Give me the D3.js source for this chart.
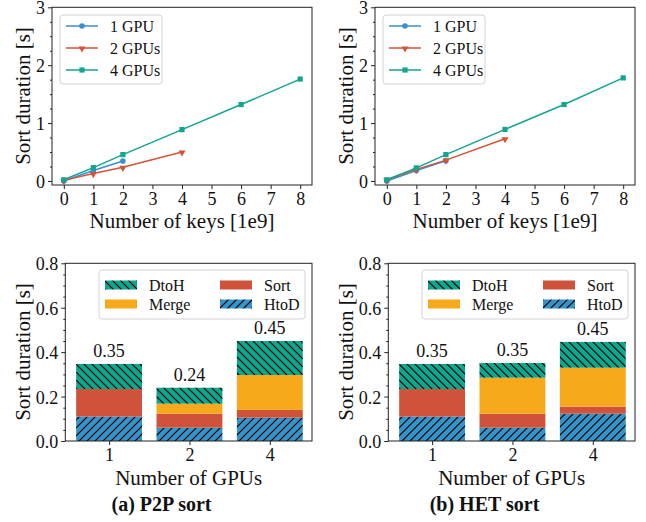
<!DOCTYPE html>
<html>
<head>
<meta charset="utf-8">
<script src="https://cdn.jsdelivr.net/npm/d3@7"></script>
<style>
  body { margin: 0; background: #fff; }
</style>
</head>
<body>
<div class="chart"></div>
<script>
// ---- data: line charts (sort duration vs number of keys, 1e9) ----
var keys1 = [0, 1, 2];
var keys2 = [0, 1, 2, 4];
var keys4 = [0, 1, 2, 4, 6, 8];

var p2pOne  = [0.00, 0.18, 0.345];
var p2pTwo  = [0.01, 0.127, 0.236, 0.50];
var p2pFour = [0.02, 0.23, 0.455, 0.887, 1.32, 1.76];

var hetOne  = [0.00, 0.18, 0.35];
var hetTwo  = [0.02, 0.20, 0.36, 0.73];
var hetFour = [0.02, 0.225, 0.455, 0.89, 1.32, 1.78];

var seriesNames = ["1 GPU", "2 GPUs", "4 GPUs"];
var lineTicksX = [0, 1, 2, 3, 4, 5, 6, 7, 8];
var lineTicksY = [0, 1, 2, 3];

// ---- data: stacked bars (breakdown at 2e9 keys) ----
var gpuCounts = ["1", "2", "4"];
var phases = ["HtoD", "Sort", "Merge", "DtoH"];
var legendOrder = ["DtoH", "Merge", "Sort", "HtoD"];

var p2pHtoD  = [0.110, 0.060, 0.105];
var p2pSort  = [0.124, 0.063, 0.035];
var p2pMerge = [0.000, 0.045, 0.157];
var p2pDtoH  = [0.113, 0.072, 0.153];
var p2pTotals = ["0.35", "0.24", "0.45"];

var hetHtoD  = [0.110, 0.060, 0.123];
var hetSort  = [0.124, 0.063, 0.032];
var hetMerge = [0.000, 0.162, 0.175];
var hetDtoH  = [0.113, 0.066, 0.116];
var hetTotals = ["0.35", "0.35", "0.45"];

var barTicksY = [0, 0.2, 0.4, 0.6, 0.8];
var captions = ["(a) P2P sort", "(b) HET sort"];

// colours
var lineColors = ["#3b8ed0", "#d6533a", "#12a58f"];
var phaseColors = { HtoD: "#3594c9", Sort: "#cf533b", Merge: "#f6a91b", DtoH: "#0fa68e" };
var phaseHatch = { HtoD: "fwd", Sort: null, Merge: null, DtoH: "back" };

var FONT = '"Liberation Serif", "DejaVu Serif", serif';

var svg = d3.select(".chart").append("svg")
  .attr("width", 646)
  .attr("height", 522);

// hatch patterns
var defs = svg.append("defs");
phases.forEach(function(p) {
  if (!phaseHatch[p]) return;
  var pat = defs.append("pattern")
    .attr("id", "hatch-" + p)
    .attr("patternUnits", "userSpaceOnUse")
    .attr("width", 8).attr("height", 8);
  pat.append("rect").attr("width", 8).attr("height", 8).attr("fill", phaseColors[p]);
  var d = phaseHatch[p] === "fwd"
    ? "M0,8 L8,0 M-2,2 L2,-2 M6,10 L10,6"
    : "M0,0 L8,8 M-2,6 L2,10 M6,-2 L10,2";
  pat.append("path").attr("d", d).attr("stroke", "#000").attr("stroke-width", 1.2);
});

function fillFor(p) {
  return phaseHatch[p] ? "url(#hatch-" + p + ")" : phaseColors[p];
}

function drawMarker(g, kind, cx, cy, color) {
  if (kind === 0) {
    g.append("circle").attr("cx", cx).attr("cy", cy).attr("r", 2.8).attr("fill", color);
  } else if (kind === 1) {
    g.append("path")
      .attr("d", d3.symbol().type(d3.symbolTriangle).size(22)())
      .attr("transform", "translate(" + cx + "," + (cy + 0.5) + ") rotate(180)")
      .attr("fill", color);
  } else {
    g.append("rect").attr("x", cx - 2.6).attr("y", cy - 2.6)
      .attr("width", 5.2).attr("height", 5.2).attr("fill", color);
  }
}

function styleAxis(ax) {
  ax.select(".domain").remove();
  ax.selectAll(".tick line").attr("stroke", "#222");
}

function frame(g, x0, x1, y0, y1) {
  g.append("rect")
    .attr("x", x0).attr("y", y0)
    .attr("width", x1 - x0).attr("height", y1 - y0)
    .attr("fill", "none").attr("stroke", "#222").attr("stroke-width", 1);
}

// ---- line panels ----
function drawLinePanel(ox, xs, ys) {
  var g = svg.append("g").attr("transform", "translate(" + ox + ",0)");
  var x = d3.scaleLinear().domain([-0.4, 8.4]).range([52, 312]);
  var y = d3.scaleLinear().domain([-0.07, 3]).range([185, 7.3]);

  var gx = g.append("g").attr("transform", "translate(0,185)")
    .call(d3.axisBottom(x).tickValues(lineTicksX).tickFormat(d3.format("d")).tickSize(4).tickPadding(3));
  styleAxis(gx);
  gx.selectAll("text").style("font-size", "18px");

  var gy = g.append("g").attr("transform", "translate(52,0)")
    .call(d3.axisLeft(y).tickValues(lineTicksY).tickFormat(d3.format("d")).tickSize(4).tickPadding(3));
  styleAxis(gy);
  gy.selectAll("text").style("font-size", "18px").attr("dy", "0.36em");

  // minor ticks every 0.25
  var gyMinor = g.append("g").attr("transform", "translate(52,0)")
    .call(d3.axisLeft(y).tickValues(d3.range(0, 3.001, 0.25).filter(function(v) { return v % 1 !== 0; }))
      .tickSize(2).tickFormat(""));
  styleAxis(gyMinor);

  frame(g, 52, 312, 7.3, 185);

  var line = d3.line()
    .x(function(d) { return x(d[0]); })
    .y(function(d) { return y(d[1]); });

  ys.forEach(function(vals, i) {
    var pts = xs[i].map(function(k, j) { return [k, vals[j]]; });
    g.append("path").datum(pts)
      .attr("fill", "none").attr("stroke", lineColors[i]).attr("stroke-width", 1.5)
      .attr("d", line);
    pts.forEach(function(p) { drawMarker(g, i, x(p[0]), y(p[1]), lineColors[i]); });
  });

  // legend
  g.append("rect").attr("x", 60).attr("y", 15).attr("width", 102).attr("height", 69)
    .attr("rx", 3).attr("fill", "#fff").attr("fill-opacity", 0.8)
    .attr("stroke", "#d4d4d4").attr("stroke-width", 1);
  seriesNames.forEach(function(name, i) {
    var ly = 26 + i * 22;
    g.append("line").attr("x1", 66).attr("x2", 98).attr("y1", ly).attr("y2", ly)
      .attr("stroke", lineColors[i]).attr("stroke-width", 1.5);
    drawMarker(g, i, 82, ly, lineColors[i]);
    g.append("text").attr("x", 110).attr("y", ly).attr("dy", "0.35em")
      .style("font-size", "16px").text(name);
  });

  g.append("text").attr("x", 182).attr("y", 228).attr("text-anchor", "middle")
    .style("font-size", "21px").text("Number of keys [1e9]");
  g.append("text").attr("transform", "translate(30,96) rotate(-90)")
    .attr("text-anchor", "middle").style("font-size", "21px").text("Sort duration [s]");
}

// ---- bar panels ----
function drawBarPanel(ox, layers, totals, caption) {
  var g = svg.append("g").attr("transform", "translate(" + ox + ",0)");
  var x = d3.scaleLinear().domain([-0.545, 2.525]).range([65.3, 312]);
  var y = d3.scaleLinear().domain([0, 0.8]).range([441, 263.3]);
  var bw = 0.82;

  var gx = g.append("g").attr("transform", "translate(0,441)")
    .call(d3.axisBottom(x).tickValues([0, 1, 2]).tickFormat(function(i) { return gpuCounts[i]; })
      .tickSize(4).tickPadding(3));
  styleAxis(gx);
  gx.selectAll("text").style("font-size", "18px");

  var gy = g.append("g").attr("transform", "translate(65.3,0)")
    .call(d3.axisLeft(y).tickValues(barTicksY).tickFormat(d3.format(".1f")).tickSize(4).tickPadding(3));
  styleAxis(gy);
  gy.selectAll("text").style("font-size", "18px").attr("dy", "0.36em");

  var gyMinor = g.append("g").attr("transform", "translate(65.3,0)")
    .call(d3.axisLeft(y).tickValues(d3.range(0.05, 0.8, 0.05).filter(function(v) {
        return Math.abs(v * 5 - Math.round(v * 5)) > 1e-6; }))
      .tickSize(2).tickFormat(""));
  styleAxis(gyMinor);

  // stacked bars
  var rows = gpuCounts.map(function(c, i) {
    var r = { idx: i };
    phases.forEach(function(p) { r[p] = layers[p][i]; });
    return r;
  });
  var stacked = d3.stack().keys(phases)(rows);
  stacked.forEach(function(layer) {
    g.append("g").selectAll("rect").data(layer).enter().append("rect")
      .attr("x", function(d) { return x(d.data.idx - bw / 2); })
      .attr("width", function(d) { return x(bw) - x(0); })
      .attr("y", function(d) { return y(d[1]); })
      .attr("height", function(d) { return y(d[0]) - y(d[1]); })
      .attr("fill", fillFor(layer.key));
  });

  // totals
  var top = stacked[stacked.length - 1];
  g.append("g").selectAll("text").data(top).enter().append("text")
    .attr("x", function(d) { return x(d.data.idx); })
    .attr("y", function(d) { return y(d[1]) - 7; })
    .attr("text-anchor", "middle").style("font-size", "18px")
    .text(function(d, i) { return totals[i]; });

  frame(g, 65.3, 312, 263.3, 441);

  // legend (2 columns)
  g.append("rect").attr("x", 99).attr("y", 270).attr("width", 206).attr("height", 49)
    .attr("rx", 3).attr("fill", "#fff").attr("fill-opacity", 0.8)
    .attr("stroke", "#d4d4d4").attr("stroke-width", 1);
  legendOrder.forEach(function(p, i) {
    var col = Math.floor(i / 2), row = i % 2;
    var lx = 105 + col * 115, ly = 285 + row * 19;
    g.append("rect").attr("x", lx).attr("y", ly - 4.5).attr("width", 32).attr("height", 9)
      .attr("fill", fillFor(p));
    g.append("text").attr("x", lx + 44).attr("y", ly).attr("dy", "0.35em")
      .style("font-size", "16px").text(p);
  });

  g.append("text").attr("x", 188.7).attr("y", 485).attr("text-anchor", "middle")
    .style("font-size", "21px").text("Number of GPUs");
  g.append("text").attr("transform", "translate(30,352) rotate(-90)")
    .attr("text-anchor", "middle").style("font-size", "21px").text("Sort duration [s]");
  g.append("text").attr("x", 161.5).attr("y", 511).attr("text-anchor", "middle")
    .style("font-size", "20px").style("font-weight", "bold").text(caption);
}

drawLinePanel(0, [keys1, keys2, keys4], [p2pOne, p2pTwo, p2pFour]);
drawLinePanel(323, [keys1, keys2, keys4], [hetOne, hetTwo, hetFour]);

drawBarPanel(0, { HtoD: p2pHtoD, Sort: p2pSort, Merge: p2pMerge, DtoH: p2pDtoH }, p2pTotals, captions[0]);
drawBarPanel(323, { HtoD: hetHtoD, Sort: hetSort, Merge: hetMerge, DtoH: hetDtoH }, hetTotals, captions[1]);

// Font style for every label
svg.selectAll("text")
  .style("font-family", FONT)
  .attr("fill", "#111");
</script>
</body>
</html>
